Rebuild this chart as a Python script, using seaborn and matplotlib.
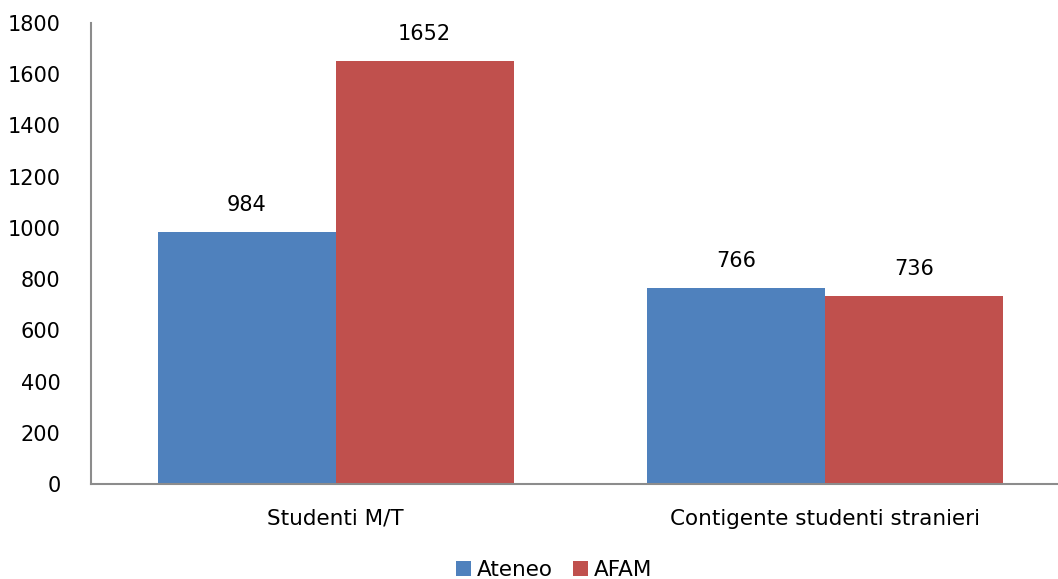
import matplotlib
matplotlib.use("Agg")
import matplotlib.pyplot as plt
import seaborn as sns
import pandas as pd

categories = ["Studenti M/T", "Contigente studenti stranieri"]
series = ["Ateneo", "AFAM"]
ateneo = [984, 766]
afam = [1652, 736]
yticks = [0, 200, 400, 600, 800, 1000, 1200, 1400, 1600, 1800]
colors = ["#4F81BD", "#C0504D"]

df = pd.DataFrame({
    "categoria": categories * 2,
    "serie": [series[0]] * len(categories) + [series[1]] * len(categories),
    "valore": ateneo + afam,
})

sns.set_theme(style="white")
plt.rcParams["font.family"] = ["DejaVu Sans"]

W, H = 1058, 579
fig = plt.figure(figsize=(W / 100, H / 100), dpi=100)
ax = fig.add_axes([91 / W, 1 - 484 / H, (W - 91) / W, (484 - 23) / H])

sns.barplot(data=df, x="categoria", y="valore", hue="serie", palette=colors,
            width=0.727, saturation=1, ax=ax, edgecolor="none")

for cont in ax.containers:
    ax.bar_label(cont, labels=[f"{int(v)}" for v in cont.datavalues],
                 padding=12, fontsize=15, color="black")

ax.set_ylim(0, 1800)
ax.set_yticks(yticks)
ax.set_yticklabels([str(t) for t in yticks], fontsize=15, color="black")
ax.set_xlim(-0.5, 1.5 - 12 / 490)
ax.tick_params(axis="x", labelsize=15.5, colors="black", pad=18, length=0)
ax.tick_params(axis="y", pad=22, length=0)
ax.set_xlabel("")
ax.set_ylabel("")

for s in ["top", "right"]:
    ax.spines[s].set_visible(False)
for s in ["left", "bottom"]:
    ax.spines[s].set_color("#8C8C8C")
    ax.spines[s].set_linewidth(1.5)

leg = ax.legend(loc="center", bbox_to_anchor=(554 / W, 1 - 570 / H),
                bbox_transform=fig.transFigure, ncol=2, frameon=False,
                fontsize=15.5, handlelength=0.7, handleheight=0.7,
                handletextpad=0.3, columnspacing=0.9, labelcolor="black")

fig.savefig("out.png", dpi=100)
